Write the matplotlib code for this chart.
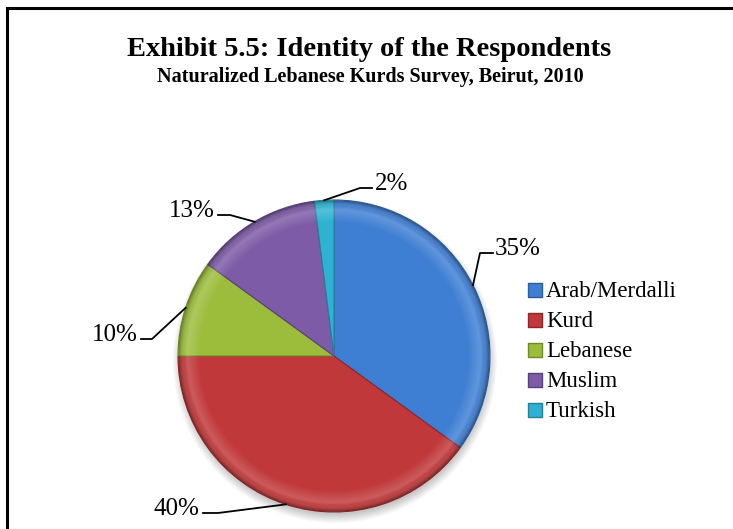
import numpy as np
import matplotlib
matplotlib.use("Agg")
import matplotlib.pyplot as plt
from matplotlib.patches import Circle, Ellipse

# Survey results: identity of the respondents (percent)
categories = ["Arab/Merdalli", "Kurd", "Lebanese", "Muslim", "Turkish"]
shares = [35, 40, 10, 13, 2]
colors = ["#3f7fd3", "#c0383a", "#9cbd3c", "#7d5ba6", "#2fb2d2"]
edge_colors = ["#2d5f9e", "#8c2627", "#72892a", "#5a4078", "#22829a"]

title = "Exhibit 5.5: Identity of the Respondents"
subtitle = "Naturalized Lebanese Kurds Survey, Beirut, 2010"

W, H = 733, 529
fig = plt.figure(figsize=(W / 100, H / 100), dpi=100)
ax = fig.add_axes([0, 0, 1, 1])
ax.set_xlim(0, W)
ax.set_ylim(0, H)
ax.set_aspect("equal")
ax.axis("off")


def py(y):
    # pixel row (top-down) -> axis y
    return H - y


serif = ["Liberation Serif", "DejaVu Serif"]

# frame (top and left edges)
ax.plot([7, 7, W + 5], [py(H + 5), py(8), py(8)], color="black", lw=2.2,
        solid_joinstyle="miter", zorder=1)

ax.text(369, py(56), title, ha="center", va="baseline",
        fontsize=20.5, fontweight="bold", family=serif)
ax.text(370, py(82), subtitle, ha="center", va="baseline",
        fontsize=14.5, fontweight="bold", family=serif)

cx, cy, r = 334, py(356), 156

# soft drop shadow under the pie
for k in range(10):
    ax.add_patch(Ellipse((cx + 1, cy - 5), 2 * (r + 6 - k), 2 * (r + 6 - k),
                         color="black", alpha=0.025, lw=0, zorder=2))

wedges, _ = ax.pie(shares, colors=colors, startangle=90, counterclock=False,
                   center=(cx, cy), radius=r,
                   wedgeprops=dict(linewidth=0.8, zorder=3))
for w, ec in zip(wedges, edge_colors):
    w.set_edgecolor(ec)
    w.set_zorder(3)
ax.set_xlim(0, W)
ax.set_ylim(0, H)

# bevel shading: light inner rim, darker outer edge
n = 400
gx, gy = np.meshgrid(np.linspace(-1, 1, n), np.linspace(-1, 1, n))
rr = np.hypot(gx, gy)
shade = np.zeros((n, n, 4))
rim = np.clip((rr - 0.86) / 0.08, 0, 1) * np.clip((0.98 - rr) / 0.04, 0, 1)
dark = np.clip((rr - 0.95) / 0.05, 0, 1)
shade[..., :3] = (1 - dark[..., None])
shade[..., 3] = np.maximum(0.18 * rim, 0.35 * dark)
shade[rr > 1] = 0
img = ax.imshow(shade, extent=(cx - r, cx + r, cy - r, cy + r),
                origin="lower", zorder=4, interpolation="bilinear")
img.set_clip_path(Circle((cx, cy), r, transform=ax.transData))

# percentage labels with leader lines
label_layout = [
    # elbow, line end, text anchor (baseline), ha
    ((480, 253), (493, 253), (495, 255), "left"),
    ((218, 513), (203, 513), (199, 515), "right"),
    ((152, 339), (141, 339), (138, 341), "right"),
    ((230, 215), (218, 215), (215, 217), "right"),
    ((360, 188), (372, 188), (375, 190), "left"),
]
angle = 90.0
for val, (elbow, end, txt, ha) in zip(shares, label_layout):
    mid = np.radians(angle - val * 3.6 / 2)
    angle -= val * 3.6
    ex, ey = cx + r * np.cos(mid), cy + r * np.sin(mid)
    ax.plot([ex, elbow[0], end[0]], [ey, py(elbow[1]), py(end[1])],
            color="black", lw=1.3, zorder=5)
    ax.text(txt[0], py(txt[1]), f"{val}%", ha=ha, va="baseline",
            fontsize=18, family=serif, zorder=6)

# legend: bevelled squares with labels
for i, (name, c, ec) in enumerate(zip(categories, colors, edge_colors)):
    yy = 290 + 30 * i
    ax.scatter([535], [py(yy)], s=110, marker="s", color=c, edgecolors=ec,
               linewidths=1, zorder=5)
    ax.text(546, py(yy + 7), name, ha="left", va="baseline",
            fontsize=16.5, family=serif, zorder=6)

fig.savefig("out.png", dpi=100)
